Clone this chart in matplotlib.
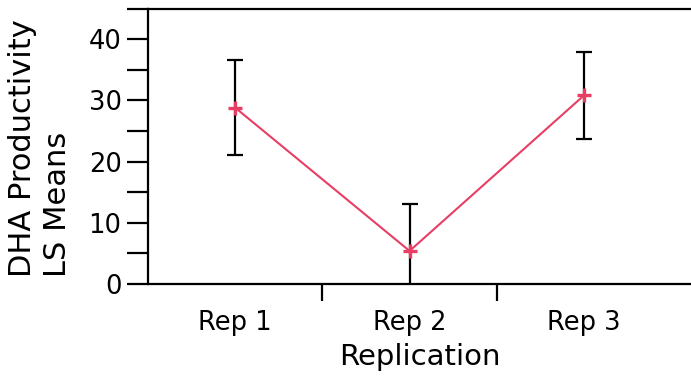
import numpy as np
import matplotlib.pyplot as plt
from matplotlib.ticker import MultipleLocator, FixedLocator

reps = ["Rep 1", "Rep 2", "Rep 3"]
ls_means = [28.8, 5.4, 30.8]
std_err = [7.8, 7.7, 7.1]

line_color = "#e93e63"

fig = plt.figure(figsize=(6.91, 3.79), dpi=100)
ax = fig.add_axes([148 / 691, 95 / 379, 543 / 691, 275.5 / 379])

x = np.arange(len(reps))
ax.errorbar(x, ls_means, yerr=std_err, fmt="none", ecolor="black",
            elinewidth=1.6, capsize=6, capthick=1.6, zorder=2)
ax.plot(x, ls_means, color=line_color, lw=1.5, marker="+", ms=10,
        mew=2.4, zorder=3)

ax.set_xlim(-0.5, 2.614)
ax.set_ylim(0, 45)

# category labels sit between the boundary ticks
ax.xaxis.set_major_locator(FixedLocator([0.5, 1.5]))
ax.xaxis.set_minor_locator(FixedLocator(x))
ax.set_xticklabels([], minor=False)
ax.set_xticklabels(reps, minor=True, fontsize=18.5)
ax.tick_params(axis="x", which="major", length=12, width=1.6, direction="out")
ax.tick_params(axis="x", which="minor", length=0, pad=19)

ax.yaxis.set_major_locator(MultipleLocator(10))
ax.yaxis.set_minor_locator(MultipleLocator(5))
ax.tick_params(axis="y", which="both", length=15, width=1.6, labelsize=18.5, pad=4)

for side in ["left", "bottom", "top"]:
    ax.spines[side].set_linewidth(1.6)
ax.spines["right"].set_visible(False)

ax.set_xlabel("Replication", fontsize=21, labelpad=5)
fig.text(40 / 691, (379 - 277) / 379, "DHA Productivity\nLS Means",
         rotation=90, fontsize=22, ha="center", va="bottom",
         multialignment="left", linespacing=1.25)

fig.savefig("out.png", dpi=100)
